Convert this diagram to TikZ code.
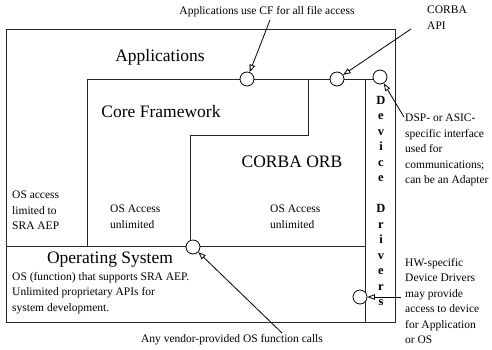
\documentclass[tikz,border=0pt]{standalone}
\usepackage{fontspec}
\setmainfont{Liberation Serif}
\usetikzlibrary{arrows.meta,positioning}

\begin{document}
\begin{tikzpicture}[
    x=1pt, y=-1pt,
    frame/.style={draw=black!85, line width=0.8pt},
    port/.style={circle, draw=black, fill=white, line width=0.8pt,
        minimum size=14pt, inner sep=0pt},
    layer/.style={font=\fontsize{17.5}{20}\selectfont},
    note/.style={font=\fontsize{11.5}{15.5}\selectfont, align=left,
        inner sep=0pt},
    letters/.style={font=\fontsize{12.5}{15.5}\selectfont\bfseries,
        align=center, inner sep=0pt},
    arr/.style={-{Triangle[open, length=7.5pt, width=5.5pt]}, line width=0.8pt},
]
\useasboundingbox (0,0) rectangle (492,349);

% Layer outlines
\draw[frame] (6,29) rectangle (395,322);
\draw[frame] (87,246) -- (87,79) -- (373,79);
\draw[frame] (308,79) -- (308,135) -- (190,135) -- (190,246);
\draw[frame] (365,79) -- (365,322);
\draw[frame] (6,246) -- (365,246);

% Interface ports
\node[port] (cfport)  at (247,79) {};
\node[port] (orbport) at (337,79) {};
\node[port] (ddport)  at (380,77) {};
\node[port] (osport)  at (193,247) {};
\node[port] (hwport)  at (360,297) {};

% Layer names
\node[layer] (apps) at (160,57)  {Applications};
\node[layer] (cf)   at (161,112) {Core Framework};
\node[layer] (orb)  at (292,162) {CORBA ORB};
\node[layer] (os)   at (110,260) {Operating System};
\node[letters] (dd) at (381,96) [anchor=north] {D\\e\\v\\i\\c\\e\\[15.5pt]D\\r\\i\\v\\e\\r\\s};

% OS access notes
\node[note, anchor=north west] (limited) at (12,191)
    {OS access\\limited to\\SRA AEP};
\node[note, anchor=north west] (cfaccess) at (110,205)
    {OS Access\\unlimited};
\node[note, anchor=north west] (orbaccess) at (270,205)
    {OS Access\\unlimited};
\node[note, anchor=north west] (osdesc) at (12,272)
    {OS (function) that supports SRA AEP.\\Unlimited proprietary APIs for\\system development.};

% Callouts
\node[note] (cfnote) at (267,12) {Applications use CF for all file access};
\node[note, anchor=north west] (apinote) at (427,6) {CORBA\\API};
\node[note, anchor=north west] (dspnote) at (405,114)
    {DSP- or ASIC-\\specific interface\\used for\\communications;\\can be an Adapter};
\node[note, anchor=north west] (hwnote) at (405,258)
    {HW-specific\\Device Drivers\\may provide\\access to device\\for Application\\or OS};
\node[note] (vendnote) at (232,340) {Any vendor-provided OS function calls};

\coordinate (cftail)   at (270,20);
\coordinate (apitail)  at (411,29);
\coordinate (dsptail)  at (404,117);
\coordinate (hwtail)   at (401,297);
\coordinate (vendtail) at (282,333);

\draw[arr] (cftail)   -- (cfport);
\draw[arr] (apitail)  -- (orbport);
\draw[arr] (dsptail)  -- (ddport);
\draw[arr] (hwtail)   -- (hwport);
\draw[arr] (vendtail) -- (osport);

\end{tikzpicture}
\end{document}
